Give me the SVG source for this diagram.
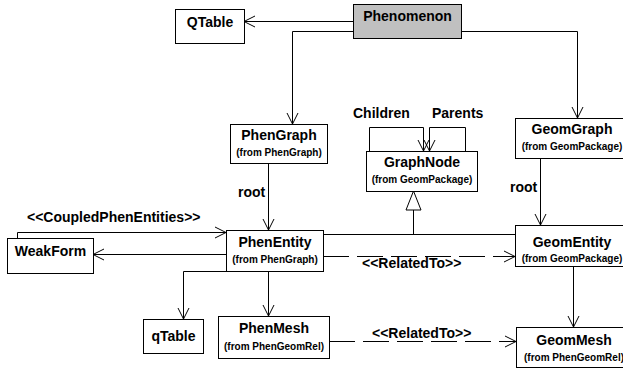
<svg xmlns="http://www.w3.org/2000/svg" width="623" height="369" viewBox="0 0 623 369">
<defs>
<marker id="open" markerUnits="userSpaceOnUse" markerWidth="14" markerHeight="14" viewBox="0 0 14 14" refX="12" refY="7" orient="auto">
<path d="M1,1.5 L12,7 L1,12.5" fill="none" stroke="#000" stroke-width="1"/>
</marker>
</defs>
<style>
.box{fill:#fff;stroke:#000;stroke-width:1}
.gray{fill:#c0c0c0}
.t{font-family:"Liberation Sans",Arial,sans-serif;font-weight:bold;font-size:14px;text-anchor:middle;fill:#000}
.s{font-family:"Liberation Sans",Arial,sans-serif;font-weight:bold;font-size:10px;text-anchor:middle;fill:#000}
.l{font-family:"Liberation Sans",Arial,sans-serif;font-weight:bold;font-size:14px;fill:#000}
.c{fill:none;stroke:#000;stroke-width:1}
.a{marker-end:url(#open)}
.d{stroke-dasharray:26 8}
</style>
<rect width="623" height="369" fill="#fff"/>
<g id="connectors">
<path class="c a" d="M353,21.5 H244"/>
<path class="c a" d="M353,31.5 H292.5 V124"/>
<path class="c a" d="M461,31.5 H577.5 V118"/>
<path class="c a" d="M268.5,163 V230"/>
<path class="c a" d="M540.5,158 V225"/>
<path class="c" d="M323,234.5 H515"/>
<path class="c" d="M413.5,234 V210" stroke-width="2"/>
<polygon points="413.5,191 406,210 421,210" fill="#fff" stroke="#000" stroke-width="1"/>
<path class="c a d" d="M323,256.5 H515"/>
<path class="c a" d="M17.5,238 V232.5 H226"/>
<path class="c a" d="M226,254.5 H93"/>
<path class="c a" d="M228,271.5 H183.5 V319"/>
<path class="c a" d="M268.5,271 V316"/>
<path class="c a" d="M573.5,266 V327"/>
<path class="c a d" d="M329,341.5 H516"/>
<path class="c a" d="M369.5,151 V127.5 H423.5 V151"/>
<path class="c a" d="M465.5,151 V127.5 H429.5 V151"/>
</g>
<text class="l" x="238" y="197">root</text>
<text class="l" x="510" y="192">root</text>
<text class="l" x="353" y="118">Children</text>
<text class="l" x="432" y="118">Parents</text>
<text class="l" x="27" y="222">&lt;&lt;CoupledPhenEntities&gt;&gt;</text>
<text class="l" x="362" y="268">&lt;&lt;RelatedTo&gt;&gt;</text>
<text class="l" x="372" y="338">&lt;&lt;RelatedTo&gt;&gt;</text>
<g id="Phenomenon">
<rect class="box gray" x="353.5" y="4.5" width="108" height="34"/>
<text class="t" x="407.5" y="21">Phenomenon</text>
</g>
<g id="QTable">
<rect class="box" x="175.5" y="9.5" width="69" height="34"/>
<text class="t" x="210" y="27">QTable</text>
</g>
<g id="PhenGraph">
<rect class="box" x="230.5" y="124.5" width="97" height="39"/>
<text class="t" x="279" y="140">PhenGraph</text>
<text class="s" x="279" y="156">(from PhenGraph)</text>
</g>
<g id="GraphNode">
<rect class="box" x="366.5" y="151.5" width="111" height="40"/>
<text class="t" x="422" y="167">GraphNode</text>
<text class="s" x="422" y="183">(from GeomPackage)</text>
</g>
<g id="GeomGraph">
<rect class="box" x="515.5" y="118.5" width="115" height="40"/>
<text class="t" x="572" y="134">GeomGraph</text>
<text class="s" x="572" y="150">(from GeomPackage)</text>
</g>
<g id="WeakForm">
<rect class="box" x="7.5" y="238.5" width="86" height="35"/>
<text class="t" x="50.5" y="256">WeakForm</text>
</g>
<g id="PhenEntity">
<rect class="box" x="226.5" y="230.5" width="97" height="41"/>
<text class="t" x="275" y="247">PhenEntity</text>
<text class="s" x="275" y="263">(from PhenGraph)</text>
</g>
<g id="GeomEntity">
<rect class="box" x="515.5" y="225.5" width="115" height="41"/>
<text class="t" x="572" y="247">GeomEntity</text>
<text class="s" x="572" y="262">(from GeomPackage)</text>
</g>
<g id="qTable">
<rect class="box" x="143.5" y="319.5" width="60" height="34"/>
<text class="t" x="173.5" y="341">qTable</text>
</g>
<g id="PhenMesh">
<rect class="box" x="218.5" y="316.5" width="111" height="42"/>
<text class="t" x="274" y="333">PhenMesh</text>
<text class="s" x="274" y="350">(from PhenGeomRel)</text>
</g>
<g id="GeomMesh">
<rect class="box" x="516.5" y="327.5" width="115" height="40"/>
<text class="t" x="574" y="345">GeomMesh</text>
<text class="s" x="574" y="361">(from PhenGeomRel)</text>
</g>
</svg>
